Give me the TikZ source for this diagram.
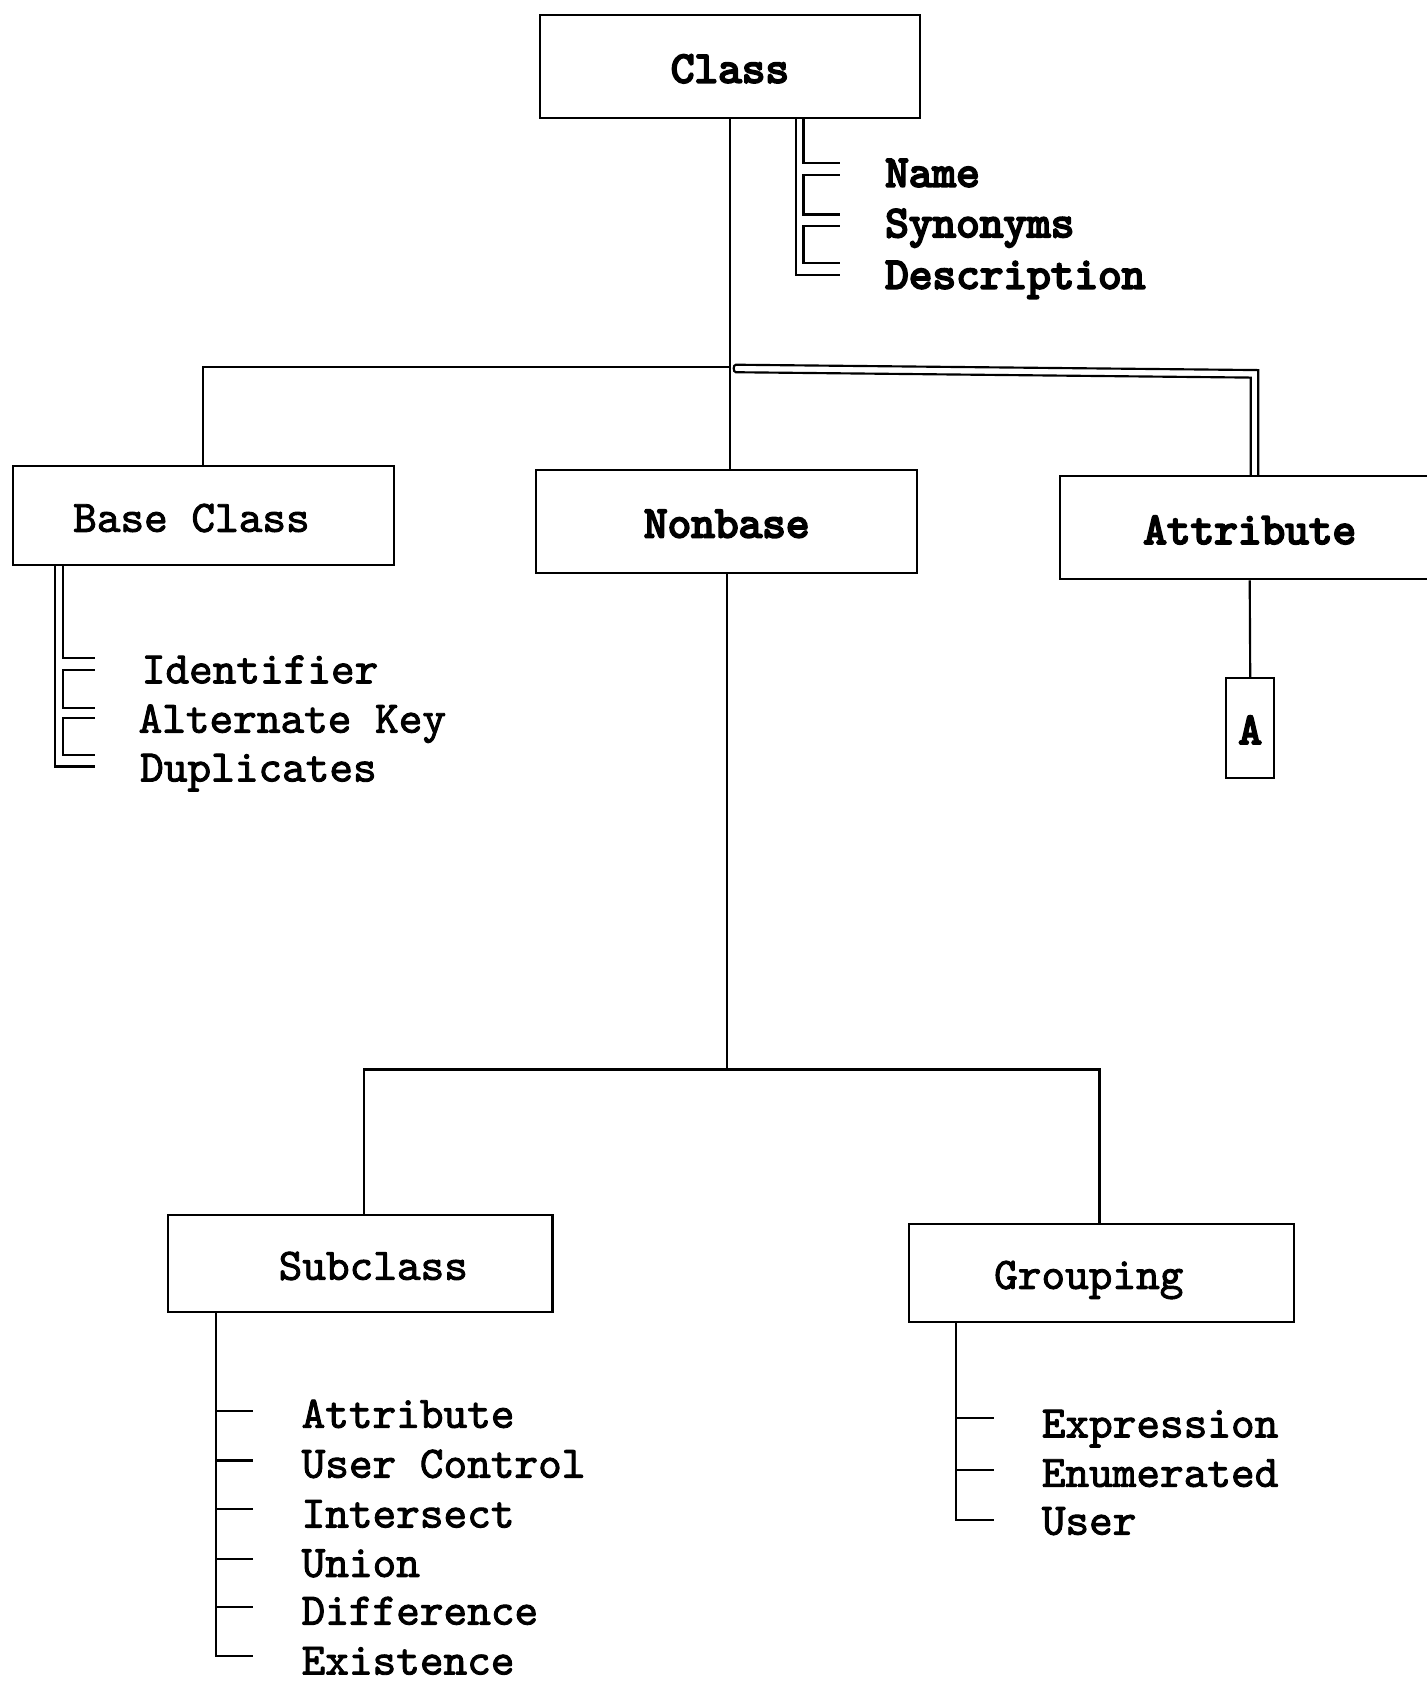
\documentclass[tikz,border=0pt]{standalone}
\usepackage{fontspec}
\newfontfamily\twreg{lmmono10-regular.otf}[FakeBold=2]
\newfontfamily\twbold{lmmono10-regular.otf}[FakeBold=4.5]
\newcommand\lab{\twreg\fontsize{42}{50}\selectfont}
\newcommand\labb{\twbold\fontsize{42}{50}\selectfont}
\tikzset{
  box/.style={draw, line width=2pt, inner sep=0pt, font=\lab, text height=38pt, text depth=8pt},
  boxb/.style={box, font=\labb},
  item/.style={anchor=base west, inner sep=0pt, font=\lab},
  itemb/.style={item, font=\labb},
  ln/.style={line width=2pt, line cap=butt, line join=miter},
}
\begin{document}
\begin{tikzpicture}[x=1pt,y=-1pt]
\fill[white] (0,0) rectangle (1330,1568);
\useasboundingbox (0,0) rectangle (1330,1568);

% boxes
\node[boxb, minimum width=355pt, minimum height=96pt] (class) at (680.5,62) {Class};
\node[box, minimum width=355pt, minimum height=92.5pt] (base) at (189.5,480.75) {Base Class\kern22pt};
\node[boxb, minimum width=355pt, minimum height=96pt] (nonbase) at (677.5,486) {Nonbase};
\node[boxb, minimum width=354pt, minimum height=96pt] (attr) at (1165,492) {Attribute};
\node[boxb, minimum width=45pt, minimum height=93pt] (A) at (1165.5,678.5) {A};
\node[box, minimum width=358pt, minimum height=90pt] (sub) at (336,1178) {\kern24pt Subclass};
\node[box, minimum width=359pt, minimum height=91pt] (grp) at (1026.5,1186.5) {Grouping\kern23pt};

% main tree
\coordinate (j) at (680.5,342);
\draw[ln] (class.south) -- (class.south |- nonbase.north);
\draw[ln] (j) -| (base.north);
\draw[ln] (attr.north -| 1173,0) -- (1173,345) -- (686,340) to[out=180,in=180] (686,347) -- (1166,352) -- (attr.north -| 1166,0);
\draw[ln] (attr.south) -- (A.north);

\coordinate (kl) at (339,997);
\coordinate (kr) at (1025,997);
\draw[ln] (nonbase.south) -- (nonbase.south |- kl);
\draw[ln] (sub.north -| kl) -- (kl) -- (kr) -- (grp.north -| kr);

% Class bracket
\draw[ln] (class.south -| 742,0) -- (742,256) -- (783,256);
\draw[ln] (class.south -| 749,0) -- (749,152) -- (783,152);
\draw[ln] (783,163) -- (749,163) -- (749,200) -- (783,200);
\draw[ln] (783,211) -- (749,211) -- (749,245) -- (783,245);
\node[itemb] (name) at (825,174) {Name};
\node[itemb] (syn) at (825,221) {Synonyms};
\node[itemb] (desc) at (825,269) {Description};

% Base Class bracket
\draw[ln] (base.south -| 51.3,0) -- (51.3,714.5) -- (88.5,714.5);
\draw[ln] (base.south -| 59,0) -- (59,613.5) -- (88.5,613.5);
\draw[ln] (88.5,624.4) -- (59,624.4) -- (59,660) -- (88.5,660);
\draw[ln] (88.5,669.4) -- (59,669.4) -- (59,703.6) -- (88.5,703.6);
\node[item] (ident) at (132,637) {Identifier};
\node[item] (alt) at (129,683) {Alternate Key};
\node[item] (dup) at (130.5,728.5) {Duplicates};

% Subclass comb
\draw[ln] (sub.south -| 201,0) -- (201,1544) -- (236,1544);
\foreach \y in {1315,1361.5,1407,1453,1498} \draw[ln] (201,\y) -- (236,\y);
\node[item] (s1) at (281,1331) {Attribute};
\node[item] (s2) at (281,1377.5) {User Control};
\node[item] (s3) at (281,1424) {Intersect};
\node[item] (s4) at (281,1470) {Union};
\node[item] (s5) at (281,1514.5) {Difference};
\node[item, text depth=0pt] (s6) at (281,1561) {Existence};

% Grouping comb
\draw[ln] (grp.south -| 891.5,0) -- (891.5,1416.6) -- (927,1416.6);
\foreach \y in {1322,1370} \draw[ln] (891.5,\y) -- (927,\y);
\node[item] (g1) at (971,1340) {Expression};
\node[item] (g2) at (971,1386) {Enumerated};
\node[item] (g3) at (971,1430.6) {User};
\end{tikzpicture}
\end{document}
